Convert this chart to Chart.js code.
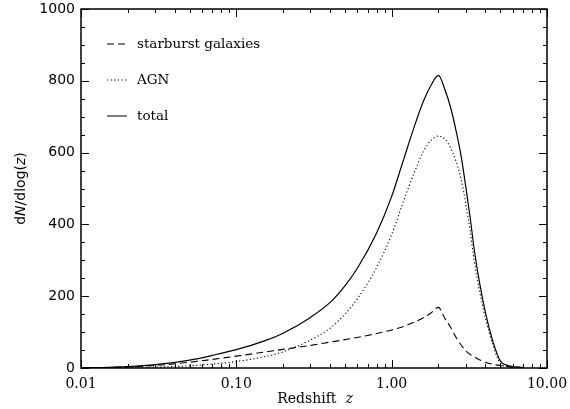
<!DOCTYPE html>
<html>
<head>
<meta charset="utf-8">
<script src="https://cdn.jsdelivr.net/npm/chart.js@4"></script>
<style>
  html, body { margin: 0; padding: 0; background: #fff; }
  #wrap { width: 570px; height: 409px; }
</style>
</head>
<body>
<div id="wrap"><canvas id="zChart"></canvas></div>
<script>
// values
const redshift  = [0.01, 0.015, 0.02, 0.03, 0.05, 0.07, 0.1, 0.15, 0.2, 0.3, 0.4, 0.5, 0.6, 0.8, 1.0, 1.2, 1.4, 1.6, 1.8, 2.0, 2.2, 2.4, 2.6, 2.8, 3.0, 3.2, 3.4, 3.7, 4.0, 4.5, 5.0, 5.5, 6.0, 7.0];
const starburst = [0.5, 1.5, 3, 7, 16, 24, 33, 44, 52, 63, 72, 79, 85, 96, 106, 116, 128, 140, 154, 169, 138, 113, 85, 64, 48, 38, 31, 22, 16, 10, 7, 4, 2.5, 1];
const agn       = [0.2, 0.5, 1, 2.5, 6, 11, 18, 31, 45, 78, 110, 150, 192, 280, 372, 468, 545, 603, 635, 646, 638, 612, 575, 526, 457, 382, 299, 210, 142, 62, 13, 4, 1.5, 0.5];
const total     = [0.7, 2, 4, 9.5, 22, 35, 51, 75, 97, 141, 182, 229, 277, 376, 478, 584, 673, 743, 789, 815, 776, 725, 660, 590, 505, 420, 330, 232, 158, 72, 20, 8, 4, 1.5];

const xTickValues = [0.01, 0.1, 1, 10];
const xTickLabels = ['0.01', '0.10', '1.00', '10.00'];
const yTickValues = [0, 200, 400, 600, 800, 1000];
const legendLabels = ['starburst galaxies', 'AGN', 'total'];

const toPoints = arr => arr.map((v, i) => ({ x: redshift[i], y: v }));

// inward ticks on all four sides + frame (IDL style)
const frameTicks = {
    id: 'frameTicks',
    afterDraw(chart) {
        const { ctx, chartArea: a, scales } = chart;
        const xs = scales.x, ys = scales.y;
        ctx.save();
        ctx.strokeStyle = '#000';
        ctx.lineWidth = 1;
        ctx.beginPath();
        for (let v = 0; v <= 1000; v += 50) {
            const y = Math.round(ys.getPixelForValue(v)) + 0.5;
            const len = (v % 200 === 0) ? 8 : 4;
            ctx.moveTo(a.left, y); ctx.lineTo(a.left + len, y);
            ctx.moveTo(a.right, y); ctx.lineTo(a.right - len, y);
        }
        [0.01, 0.1, 1].forEach(d => {
            for (let k = 1; k <= 10; k++) {
                const x = Math.round(xs.getPixelForValue(k * d)) + 0.5;
                const len = (k === 1 || k === 10) ? 8 : 4;
                ctx.moveTo(x, a.bottom); ctx.lineTo(x, a.bottom - len);
                ctx.moveTo(x, a.top); ctx.lineTo(x, a.top + len);
            }
        });
        ctx.stroke();
        ctx.lineWidth = 1.5;
        ctx.strokeRect(a.left, a.top, a.right - a.left, a.bottom - a.top);
        ctx.restore();
    }
};

// legend in the upper left corner and axis titles with italic parts
const annotations = {
    id: 'annotations',
    afterDraw(chart) {
        const { ctx, chartArea: a } = chart;
        ctx.save();
        ctx.fillStyle = '#000';
        ctx.strokeStyle = '#000';
        ctx.textBaseline = 'middle';
        ctx.font = '13.5px "DejaVu Serif"';
        chart.data.datasets.forEach((ds, i) => {
            const y = a.top + 35 + i * 36;
            ctx.lineWidth = 1;
            ctx.setLineDash(ds.borderDash || []);
            ctx.beginPath();
            ctx.moveTo(a.left + 26, y);
            ctx.lineTo(a.left + 46, y);
            ctx.stroke();
            ctx.setLineDash([]);
            ctx.fillText(legendLabels[i], a.left + 56, y);
        });

        // x title
        const parts = [['Redshift  ', '14px "DejaVu Serif"'], ['z', 'italic 14px "DejaVu Serif"']];
        let w = 0;
        parts.forEach(p => { ctx.font = p[1]; w += ctx.measureText(p[0]).width; });
        let x = (a.left + a.right) / 2 - w / 2 + 1;
        ctx.textBaseline = 'alphabetic';
        parts.forEach(p => { ctx.font = p[1]; ctx.fillText(p[0], x, 403); x += ctx.measureText(p[0]).width; });

        // y title
        const yparts = [['d', '14px "DejaVu Sans"'], ['N', 'italic 14px "DejaVu Sans"'],
                        ['/dlog(', '14px "DejaVu Sans"'], ['z', 'italic 14px "DejaVu Sans"'], [')', '14px "DejaVu Sans"']];
        w = 0;
        yparts.forEach(p => { ctx.font = p[1]; w += ctx.measureText(p[0]).width; });
        ctx.translate(25, (a.top + a.bottom) / 2);
        ctx.rotate(-Math.PI / 2);
        x = -w / 2;
        yparts.forEach(p => { ctx.font = p[1]; ctx.fillText(p[0], x, 0); x += ctx.measureText(p[0]).width; });
        ctx.restore();
    }
};

const commonLine = {
    borderColor: '#000',
    backgroundColor: '#000',
    borderWidth: 1.1,
    pointRadius: 0,
    fill: false,
    cubicInterpolationMode: 'monotone'
};

new Chart(document.getElementById('zChart'), {
    type: 'line',
    data: {
        datasets: [
            { ...commonLine, label: legendLabels[0], data: toPoints(starburst), borderDash: [7, 4] },
            { ...commonLine, label: legendLabels[1], data: toPoints(agn), borderDash: [1.2, 2.4] },
            { ...commonLine, label: legendLabels[2], data: toPoints(total), borderWidth: 1.2 }
        ]
    },
    options: {
        responsive: true,
        maintainAspectRatio: false,
        animation: false,
        layout: { padding: { top: 9, right: 23, left: 0, bottom: 0 } },
        scales: {
            x: {
                type: 'logarithmic',
                min: 0.01,
                max: 10,
                grid: { display: false, drawTicks: false },
                border: { display: false },
                afterBuildTicks: s => { s.ticks = xTickValues.map(v => ({ value: v })); },
                afterFit: s => { s.height = 41; s.paddingLeft = 0; s.paddingRight = 0; },
                ticks: {
                    autoSkip: false,
                    maxRotation: 0,
                    padding: 8,
                    color: '#000',
                    font: { family: 'DejaVu Serif', size: 14 },
                    callback: (v, i) => xTickLabels[i]
                }
            },
            y: {
                min: 0,
                max: 1000,
                grid: { display: false, drawTicks: false },
                border: { display: false },
                afterBuildTicks: s => { s.ticks = yTickValues.map(v => ({ value: v })); },
                afterFit: s => { s.width = 81; s.paddingTop = 0; s.paddingBottom = 0; },
                ticks: {
                    padding: 6,
                    color: '#000',
                    font: { family: 'DejaVu Sans', size: 14 },
                    callback: v => String(v)
                }
            }
        },
        plugins: {
            legend: { display: false },
            tooltip: { enabled: false }
        }
    },
    plugins: [frameTicks, annotations]
});
</script>
</body>
</html>
